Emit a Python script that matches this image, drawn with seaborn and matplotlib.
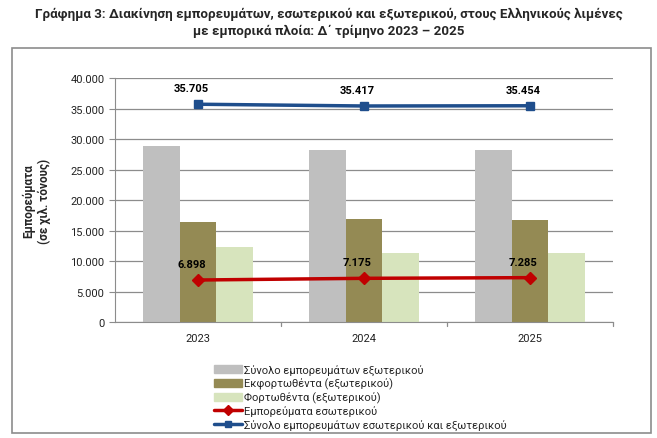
import matplotlib.pyplot as plt
import matplotlib.patches as mpatches
from matplotlib.lines import Line2D
from matplotlib.ticker import FuncFormatter
import numpy as np
import pandas as pd
import seaborn as sns

# Data (thousand tonnes), Q4 of each year
years = ['2023', '2024', '2025']
foreign_total = [28807, 28242, 28169]
unloaded = [16450, 16900, 16800]
loaded = [12357, 11342, 11369]
domestic = [6898, 7175, 7285]
grand_total = [35705, 35417, 35454]

series_names = ['Σύνολο εμπορευμάτων εξωτερικού',
                'Εκφορτωθέντα (εξωτερικού)',
                'Φορτωθέντα (εξωτερικού)']
line_names = ['Εμπορεύματα εσωτερικού',
              'Σύνολο εμπορευμάτων εσωτερικού και εξωτερικού']
bar_colors = ['#BFBFBF', '#948A54', '#D7E4BD']
red, blue = '#C00000', '#1F4E8C'

df = pd.DataFrame({
    'Έτος': years * 3,
    'Σειρά': np.repeat(series_names, len(years)),
    'Τιμή': foreign_total + unloaded + loaded,
})

sns.set_style('white')
plt.rcParams['font.family'] = ['Roboto', 'DejaVu Sans']

fig = plt.figure(figsize=(6.57, 4.39), dpi=100)
ax = fig.add_axes([0.175, 0.264, 0.758, 0.556])

sns.barplot(data=df, x='Έτος', y='Τιμή', hue='Σειρά', palette=bar_colors,
            width=0.66, gap=0, saturation=1, linewidth=0, ax=ax, legend=False,
            zorder=2)

xs = np.arange(len(years))
ax.plot(xs, domestic, color=red, lw=2.5, marker='D', ms=6, zorder=4)
ax.plot(xs, grand_total, color=blue, lw=2.5, marker='s', ms=6, zorder=4)

fmt = lambda v: f'{int(v):,}'.replace(',', '.')
for x, v in zip(xs, domestic):
    ax.text(x - 0.04, v + 1800, fmt(v), ha='center', va='bottom',
            fontsize=8, fontweight='bold', color='black')
for x, v in zip(xs, grand_total):
    ax.text(x - 0.04, v + 1800, fmt(v), ha='center', va='bottom',
            fontsize=8, fontweight='bold', color='black')

ax.set_ylim(0, 40000)
ax.set_xlim(-0.5, 2.5)
ax.set_yticks(np.arange(0, 40001, 5000))
ax.yaxis.set_major_formatter(FuncFormatter(lambda v, p: fmt(v)))
ax.grid(axis='y', color='#8C8C8C', lw=0.9, zorder=0)
ax.set_axisbelow(True)
for s in ['top', 'right']:
    ax.spines[s].set_visible(False)
for s in ['left', 'bottom']:
    ax.spines[s].set_color('#8C8C8C')
ax.tick_params(axis='y', length=4, color='#8C8C8C', labelsize=8, labelcolor='#222222', left=True)
ax.tick_params(axis='x', length=0, labelsize=8, labelcolor='#222222', pad=8)
for b in [0.5, 1.5, 2.5]:
    ax.plot([b, b], [0, -700], color='#8C8C8C', lw=0.9, clip_on=False)
ax.set_xlabel('')
ax.set_ylabel('Εμπορεύματα\n(σε χιλ. τόνους)', fontsize=8.5, fontweight='bold',
              labelpad=14)

fig.text(0.5, 0.967, 'Γράφημα 3: Διακίνηση εμπορευμάτων, εσωτερικού και εξωτερικού, '
         'στους Ελληνικούς λιμένες', ha='center', va='center', fontsize=9.6,
         fontweight='bold')
fig.text(0.5, 0.928, 'με εμπορικά πλοία: Δ΄ τρίμηνο 2023 – 2025', ha='center',
         va='center', fontsize=9.6, fontweight='bold')

fig.patches.append(mpatches.Rectangle((12 / 657, 5 / 439), 639 / 657, 385 / 439,
                                      transform=fig.transFigure, fill=False,
                                      edgecolor='#8C8C8C', lw=1.2))

handles = [mpatches.Patch(color=c) for c in bar_colors]
handles += [Line2D([], [], color=red, lw=2.5, marker='D', ms=5),
            Line2D([], [], color=blue, lw=2.5, marker='s', ms=5)]
fig.legend(handles, series_names + line_names, loc='upper left',
           bbox_to_anchor=(0.325, 0.168), frameon=False, fontsize=8,
           handlelength=2.6, handleheight=0.7, handletextpad=0.1,
           labelspacing=0.22, borderpad=0, borderaxespad=0)

fig.savefig('out.png', dpi=100)
